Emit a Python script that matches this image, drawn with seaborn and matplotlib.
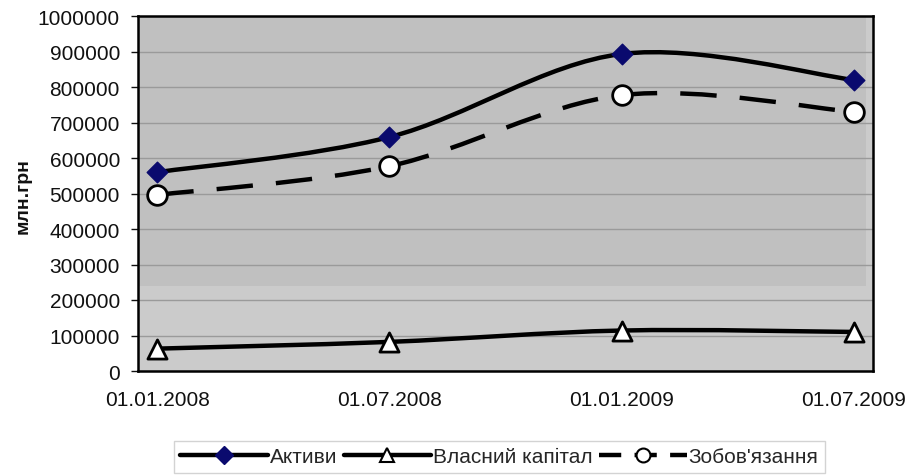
import numpy as np
import pandas as pd
import matplotlib
matplotlib.use("Agg")
import matplotlib.pyplot as plt
from matplotlib.path import Path
from matplotlib.patches import PathPatch
from matplotlib.lines import Line2D
import seaborn as sns

# ---- data ----
dates = ["01.01.2008", "01.07.2008", "01.01.2009", "01.07.2009"]
month_index = [0, 6, 12, 18]          # months since 01.01.2008
assets = [560000, 659000, 893000, 820000]        # Активи
equity = [63000, 82000, 114000, 110000]          # Власний капітал
liabilities = [496000, 577000, 777000, 730000]   # Зобов'язання
series_names = ["Активи", "Власний капітал", "Зобов'язання"]
y_ticks = list(range(0, 1000001, 100000))

sns.set_theme(style="white")
plt.rcParams["font.family"] = ["Liberation Sans", "DejaVu Sans"]

# Excel date axis: points sit in the middle of their month
xpos = [m + 0.5 for m in month_index]
df = pd.DataFrame({"x": xpos * 3,
                   "y": assets + equity + liabilities,
                   "s": sum([[n] * 4 for n in series_names], [])})

fig = plt.figure(figsize=(9.08, 4.77), dpi=100)
ax = fig.add_axes([138 / 908, 1 - 372 / 477, 735 / 908, 355 / 477])

ax.set_facecolor("#cbcbcb")
ax.axhspan(240000, 1000000, xmin=0.0, xmax=0.99, color="#c0c0c0", zorder=0, lw=0)
for t in y_ticks[1:-1]:
    ax.axhline(t, color="#9a9a9a", lw=1.0, zorder=1)


def smooth_path(xs, ys):
    pts = np.column_stack([xs, ys]).astype(float)
    n = len(pts)
    verts = [pts[0]]
    codes = [Path.MOVETO]
    for i in range(n - 1):
        p0 = pts[max(i - 1, 0)]
        p1 = pts[i]
        p2 = pts[i + 1]
        p3 = pts[min(i + 2, n - 1)]
        c1 = p1 + (p2 - p0) / 6.0
        c2 = p2 - (p3 - p1) / 6.0
        verts += [c1, c2, p2]
        codes += [Path.CURVE4] * 3
    return Path(verts, codes)


lw = 3.2
for vals, ls in [(assets, "-"), (equity, "-"), (liabilities, (0, (8.2, 5.2)))]:
    patch = PathPatch(smooth_path(xpos, vals), facecolor="none", edgecolor="black",
                      lw=lw, linestyle=ls, zorder=3, capstyle="butt")
    ax.add_patch(patch)

styles = {
    "Активи": dict(marker="D", s=110, color="#0a0a6e", edgecolor="#0a0a6e", linewidth=1),
    "Власний капітал": dict(marker="^", s=190, color="white", edgecolor="black", linewidth=2),
    "Зобов'язання": dict(marker="o", s=200, color="white", edgecolor="black", linewidth=2),
}
for name in series_names:
    sub = df[df["s"] == name]
    sns.scatterplot(data=sub, x="x", y="y", ax=ax, zorder=5, legend=False, **styles[name])

ax.set_xlim(0, 19)
ax.set_ylim(0, 1000000)
ax.set_yticks(y_ticks)
ax.set_yticklabels([str(t) for t in y_ticks], fontsize=15)
ax.set_xticks(xpos)
ax.set_xticklabels(dates, fontsize=15)
ax.set_xticks(month_index, minor=True)
ax.tick_params(axis="x", which="major", length=0, pad=14, colors="#111111")
ax.tick_params(axis="x", which="minor", length=5, width=1, color="#888888", direction="out")
ax.tick_params(axis="y", length=5, width=1, color="#888888", direction="out", pad=8,
               left=True, colors="#111111")
ax.tick_params(axis="y", colors="#111111")
for sp in ax.spines.values():
    sp.set_color("black")
    sp.set_linewidth(1.8)
ax.set_xlabel("")
ax.set_ylabel("")

fig.text(0.025, 0.59, "млн.грн", rotation=90, fontsize=14, fontweight="bold",
         ha="center", va="center", color="#111111")

handles = [
    Line2D([], [], color="black", lw=lw, marker="D", markersize=9,
           markerfacecolor="#0a0a6e", markeredgecolor="#0a0a6e"),
    Line2D([], [], color="black", lw=lw, marker="^", markersize=10,
           markerfacecolor="white", markeredgecolor="black", markeredgewidth=1.5),
    Line2D([], [], color="black", lw=lw, linestyle=(0, (5, 3)), marker="o", markersize=10,
           markerfacecolor="white", markeredgecolor="black", markeredgewidth=1.5),
]
leg = fig.legend(handles, series_names, loc="center", bbox_to_anchor=(0.55, 0.04),
                 ncol=3, fontsize=15, frameon=True, fancybox=False, handlelength=4.2,
                 handletextpad=0.1, columnspacing=0.3, borderpad=0.3)
leg.get_frame().set_edgecolor("#c8c8c8")
leg.get_frame().set_linewidth(1.0)

fig.savefig("out.png", dpi=100)
